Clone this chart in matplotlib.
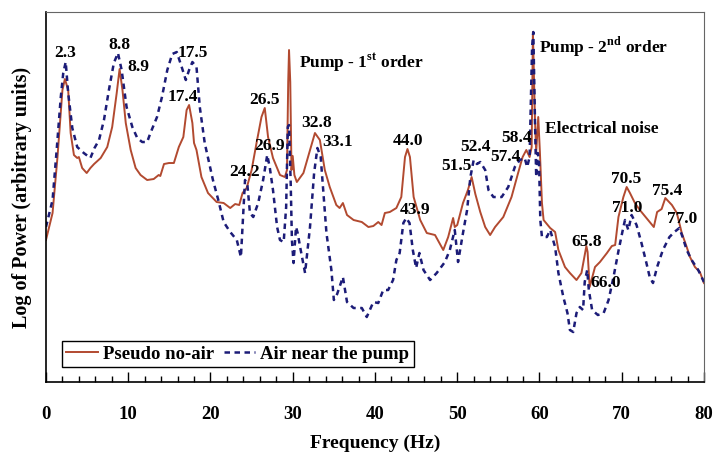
import numpy as np
import matplotlib
matplotlib.use('Agg')
import matplotlib.pyplot as plt
from matplotlib.ticker import MultipleLocator

plt.rcParams['font.family'] = ['Liberation Serif', 'DejaVu Serif']
plt.rcParams['font.weight'] = 'bold'
plt.rcParams['mathtext.fontset'] = 'custom'
plt.rcParams['mathtext.rm'] = 'Liberation Serif:bold'
plt.rcParams['mathtext.bf'] = 'Liberation Serif:bold'

# Pseudo no-air spectrum (frequency in Hz, log power in arbitrary units)
no_air_f = [0.0, 0.8, 1.4, 2.0, 2.3, 2.7, 3.0, 3.4, 3.8, 4.0, 4.4, 4.95, 5.4, 5.85,
            6.65, 7.45, 8.05, 8.6, 8.95, 9.3, 9.7, 10.3, 10.9, 11.5, 12.3, 13.1, 13.7,
            13.9, 14.35, 14.95, 15.55, 16.15, 16.7, 17.1, 17.4, 17.8, 18.0, 18.3, 18.9,
            19.7, 20.75, 21.6, 22.4, 23.0, 23.5, 23.9, 24.4, 25.0, 25.6, 26.2, 26.6,
            27.0, 27.6, 28.45, 29.05, 29.3, 29.45, 29.55, 29.7, 29.85, 30.0, 30.2, 30.5,
            31.3, 32.1, 32.7, 33.3, 33.9, 34.5, 35.3, 35.7, 36.1, 36.6, 37.4, 38.4, 39.2,
            39.8, 40.4, 40.8, 41.2, 41.8, 42.6, 43.2, 43.65, 43.95, 44.25, 44.7, 45.5,
            46.3, 47.3, 48.3, 48.9, 49.5, 49.7, 50.0, 50.7, 51.3, 51.75, 52.2, 52.8,
            53.4, 54.0, 54.6, 55.6, 56.6, 57.4, 57.95, 58.4, 58.8, 59.05, 59.2, 59.45,
            59.6, 59.85, 60.05, 60.3, 60.5, 61.3, 61.9, 62.3, 63.1, 63.7, 64.5, 65.1,
            65.7, 65.85, 66.0, 66.1, 66.75, 67.35, 68.2, 68.8, 69.2, 69.6, 70.2, 70.6,
            71.0, 71.6, 72.2, 73.0, 73.9, 74.3, 74.85, 75.3, 76.1, 76.7, 77.3, 77.9,
            78.3, 78.9, 79.5, 80.0]
no_air_p = [142, 169, 225, 292, 303, 292, 249, 227, 224, 225, 214, 209, 214, 218,
            224, 235, 255, 289, 313, 292, 259, 232, 214, 207, 202, 203, 207,
            206, 218, 219, 219, 235, 245, 272, 277, 259, 239, 232, 205,
            189, 180, 179, 174, 178, 177, 189, 194, 212, 239, 265, 274,
            245, 224, 207, 205, 212, 300, 332, 300, 212, 226, 207, 200,
            209, 232, 249, 242, 212, 195, 177, 174, 179, 167, 162, 160, 155,
            156, 160, 157, 169, 170, 174, 185, 225, 233, 225, 185, 162,
            149, 147, 132, 145, 164, 155, 157, 179, 192, 205, 188, 170,
            155, 147, 155, 165, 185, 209, 225, 232, 225, 235, 350, 262,
            230, 265, 230, 179, 162, 154, 150, 132, 115, 109, 102, 109,
            136, 130, 110, 95, 115, 120, 129, 136, 137, 165, 185, 195,
            189, 179, 172, 164, 155, 170, 173, 184, 177, 169, 149, 135,
            125, 115, 110, 99]

# Air near the pump spectrum
air_f = [0.0, 0.8, 1.3, 1.8, 2.1, 2.4, 2.7, 3.2, 3.8, 4.6, 5.4, 5.9, 6.45, 7.05,
         7.65, 8.25, 8.75, 9.2, 9.8, 10.5, 11.1, 11.7, 12.3, 12.7, 13.5, 14.1, 14.75,
         15.35, 15.9, 16.5, 17.0, 17.4, 17.8, 18.3, 18.7, 19.3, 20.3, 20.95, 21.6,
         22.4, 23.2, 23.7, 23.9, 24.2, 24.5, 24.8, 25.2, 25.8, 26.4, 26.9, 27.2, 27.6,
         28.1, 28.45, 28.9, 29.2, 29.4, 29.55, 29.75, 29.9, 30.1, 30.4, 30.6, 30.9,
         31.5, 32.1, 32.6, 33.0, 33.4, 33.7, 34.1, 34.7, 35.0, 35.4, 36.1, 36.6, 37.4,
         38.4, 39.0, 39.8, 40.4, 41.0, 41.6, 42.2, 42.6, 43.0, 43.45, 43.8, 44.2, 44.6,
         45.0, 45.4, 45.9, 46.7, 47.5, 48.5, 49.1, 49.7, 50.1, 50.7, 51.2, 51.6, 52.0,
         52.4, 52.8, 53.4, 53.8, 54.4, 55.4, 56.2, 57.0, 57.6, 58.2, 58.5, 58.8, 59.1,
         59.25, 59.45, 59.6, 59.8, 59.95, 60.1, 60.3, 60.9, 61.3, 61.9, 62.3, 62.9,
         63.4, 63.7, 64.1, 64.5, 64.9, 65.3, 65.5, 65.8, 66.0, 66.4, 67.1, 67.8, 68.4,
         69.0, 69.6, 70.2, 70.4, 70.8, 71.2, 71.8, 72.4, 73.0, 73.4, 73.8, 74.3, 75.0,
         75.8, 76.4, 77.0, 77.4, 77.9, 78.5, 79.3, 80.0]
air_p = [155, 182, 232, 285, 309, 320, 289, 254, 235, 229, 224, 234, 242, 262,
         292, 319, 329, 312, 275, 255, 244, 240, 240, 249, 265, 285, 312,
         328, 330, 315, 302, 312, 320, 315, 275, 239, 202, 182, 160,
         150, 142, 125, 155, 202, 196, 169, 165, 179, 202, 227, 215, 192,
         155, 142, 140, 175, 255, 257, 200, 142, 119, 155, 149, 135,
         109, 155, 209, 234, 225, 192, 149, 112, 82, 88, 105, 80, 74,
         74, 65, 80, 79, 92, 92, 102, 122, 129, 159, 164, 159, 132,
         114, 129, 112, 102, 109, 120, 132, 152, 120, 149, 172, 205, 222,
         218, 220, 212, 192, 185, 185, 195, 215, 222, 224, 215, 225, 335,
         350, 262, 205, 229, 219, 162, 145, 145, 152, 135, 109, 85,
         69, 52, 50, 69, 75, 72, 100, 112, 92, 72, 67, 69, 82,
         105, 131, 155, 162, 152, 167, 157, 139, 119, 105, 99, 115, 132,
         145, 150, 154, 145, 132, 122, 112, 100]

# peak labels: text and where it sits
peak_text = ['2.3', '8.8', '8.9', '17.5', '17.4', '24.2', '26.5', '26.9', '32.8', '33.1',
             '44.0', '43.9', '51.5', '52.4', '57.4', '58.4', '65.8', '66.0', '70.5', '71.0',
             '75.4', '77.0']
peak_x = [2.3, 8.9, 11.2, 17.9, 16.6, 24.2, 26.6, 27.2, 32.9, 35.4,
          44.05, 44.9, 49.9, 52.2, 55.9, 57.2, 65.7, 68.1, 70.5, 70.7,
          75.5, 77.3]
peak_y = [329, 337, 315, 329, 285, 210, 282, 236, 259, 240,
          241, 172, 216, 235, 225, 244, 140, 99, 203, 174,
          191, 163]

red = '#b24a30'
navy = '#1c1c78'

fig = plt.figure(figsize=(7.15, 4.55), dpi=100)
ax = fig.add_axes([0.0643, 0.1604, 0.9203, 0.8132])

ax.plot(no_air_f, no_air_p, color=red, lw=1.4, label='Pseudo no-air')
ax.plot(air_f, air_p, color=navy, lw=1.8, ls=(0, (2.2, 1.8)), label='Air near the pump')

ax.set_xlim(0, 80)
ax.set_ylim(0, 370)
ax.xaxis.set_major_locator(MultipleLocator(10))
ax.xaxis.set_minor_locator(MultipleLocator(2))
ax.tick_params(axis='x', which='major', direction='in', length=7, width=1, pad=17,
               labelsize=13.5)
ax.tick_params(axis='x', which='minor', direction='in', length=4, width=1)
ax.set_yticks([])
for lbl in ax.get_xticklabels():
    lbl.set_fontweight('bold')

for side in ['top', 'right']:
    ax.spines[side].set_color('#666666')
for side in ['left', 'bottom']:
    ax.spines[side].set_color('black')
    ax.spines[side].set_linewidth(1.2)

for t, x, y in zip(peak_text, peak_x, peak_y):
    ax.text(x, y, t, ha='center', va='center', fontsize=12.5, fontweight='bold')

ax.text(30.8, 320, r'Pump - 1$^{\mathbf{st}}$ order', ha='left', va='center',
        fontsize=12.5, fontweight='bold')
ax.text(60.0, 335, r'Pump - 2$^{\mathbf{nd}}$ order', ha='left', va='center',
        fontsize=12.5, fontweight='bold')
ax.text(60.7, 253, 'Electrical noise', ha='left', va='center',
        fontsize=12.5, fontweight='bold')

ax.set_xlabel('Frequency (Hz)', fontsize=14, fontweight='bold', labelpad=9)
ax.set_ylabel('Log of Power (arbitrary units)', fontsize=14.5, fontweight='bold', labelpad=10)

leg = ax.legend(loc='lower left', bbox_to_anchor=(0.024, 0.04), ncol=2, frameon=True,
                fancybox=False, edgecolor='black', framealpha=1, fontsize=13.5,
                handlelength=1.7, handletextpad=0.25, columnspacing=0.5,
                borderpad=0.25, borderaxespad=0)
leg.get_frame().set_linewidth(1.0)
for t in leg.get_texts():
    t.set_fontweight('bold')

fig.savefig('out.png', dpi=100)
